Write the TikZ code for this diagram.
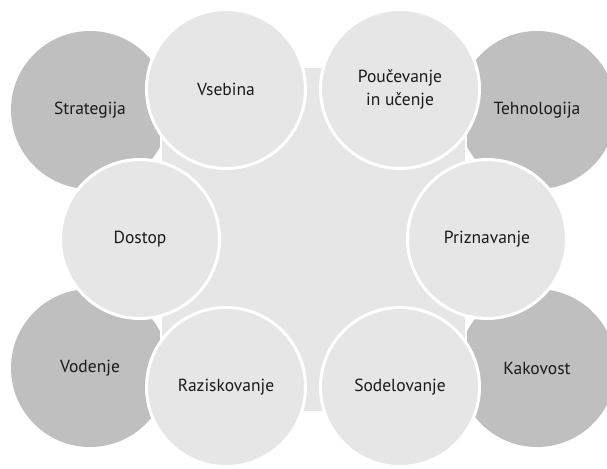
\documentclass[tikz,border=0pt]{standalone}
\usepackage{fontspec}
\setmainfont{PT Sans}
\definecolor{lightfill}{HTML}{E6E6E6}
\definecolor{darkfill}{HTML}{BFBFBF}
\definecolor{ink}{HTML}{1A1A1A}
\begin{document}
\begin{tikzpicture}[x=1pt,y=-1pt,
  outerdisc/.style={circle, fill=darkfill, minimum size=158pt, inner sep=0pt,
    text=ink, font=\fontsize{17.5}{23}\selectfont, align=center},
  innerdisc/.style={circle, fill=lightfill, draw=white, line width=3pt,
    minimum size=159pt, inner sep=0pt,
    text=ink, font=\fontsize{17.5}{23}\selectfont, align=center},
  hub/.style={rectangle, fill=lightfill, draw=white, line width=2.5pt,
    minimum width=305pt, minimum height=345pt, inner sep=0pt}]
\useasboundingbox (0,0) rectangle (607,468);
% corner discs, behind everything
\node[outerdisc] (strategija) at (90,110) {Strategija};
\node[outerdisc] (tehnologija) at (537,110) {Tehnologija};
\node[outerdisc] (vodenje) at (90,368) {Vodenje};
\node[outerdisc] (kakovost) at (537,368) {Kakovost};
% central field
\node[hub] (hub) at (313.5,239.5) {};
% ring of light discs
\node[innerdisc] (vsebina) at (226,89) {Vsebina};
\node[innerdisc] (poucevanje) at (400,89) {Poučevanje\\in učenje};
\node[innerdisc] (dostop) at (140,239) {Dostop};
\node[innerdisc] (priznavanje) at (487,239) {Priznavanje};
\node[innerdisc] (raziskovanje) at (226,387) {Raziskovanje};
\node[innerdisc] (sodelovanje) at (400,387) {Sodelovanje};
\end{tikzpicture}
\end{document}
